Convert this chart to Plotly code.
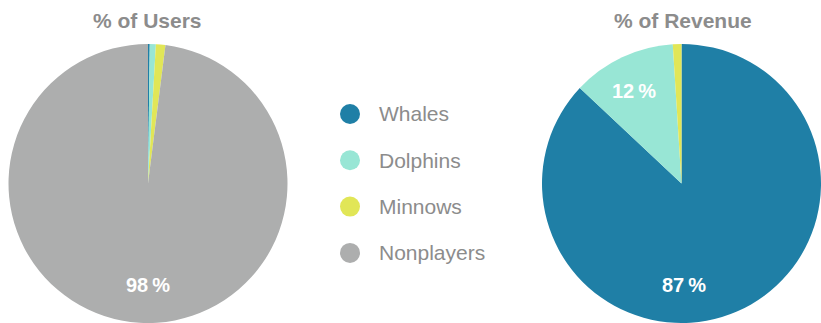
import plotly.graph_objects as go

# Player segments and their shares
segments = ["Whales", "Dolphins", "Minnows", "Nonplayers"]
users_pct = [0.2, 0.7, 1.1, 98.0]
revenue_pct = [87.0, 12.0, 1.0, 0.0]
titles = ["% of Users", "% of Revenue"]
colors = ["#1f7fa6", "#98e6d5", "#e1e657", "#adaeae"]

W, H = 821, 323
FONT = "Liberation Sans, Arial, Helvetica, sans-serif"
TITLE_GREY = "#8c8c8c"
LEGEND_GREY = "#8c8c8c"


def px(x):
    return x / W


def py(y):
    # pixel row measured from the top -> paper fraction
    return (H - y) / H


fig = go.Figure()

pie_common = dict(
    labels=segments,
    sort=False,
    direction="clockwise",
    rotation=0,
    marker=dict(colors=colors, line=dict(width=0)),
    textinfo="none",
    showlegend=False,
    hovertemplate="%{label}: %{value}%<extra></extra>",
)

fig.add_trace(go.Pie(values=users_pct,
                     domain=dict(x=[px(7), px(289)], y=[0, py(44)]),
                     **pie_common))
fig.add_trace(go.Pie(values=revenue_pct,
                     domain=dict(x=[px(542), 1], y=[0, py(44)]),
                     **pie_common))

annotations = []

# Chart titles above each pie
for text, cx in zip(titles, [147, 683]):
    annotations.append(dict(
        text=f"<b>{text}</b>", x=px(cx), y=py(20), xref="paper", yref="paper",
        showarrow=False, xanchor="center", yanchor="middle",
        font=dict(family=FONT, size=21, color=TITLE_GREY)))


def pct_label(v):
    return f"<b>{v:.0f}\u2009%</b>"


# Value labels on the large slices
value_labels = [
    (users_pct[3], 148, 285),
    (revenue_pct[0], 684, 285),
    (revenue_pct[1], 634, 91),
]
for v, x, y in value_labels:
    annotations.append(dict(
        text=pct_label(v), x=px(x), y=py(y), xref="paper", yref="paper",
        showarrow=False, xanchor="center", yanchor="middle",
        font=dict(family=FONT, size=20, color="white")))

# Shared legend between the pies
shapes = []
leg_x, leg_y0, leg_step, r = 350, 114, 46.3, 10
for i, (name, col) in enumerate(zip(segments, colors)):
    yc = leg_y0 + i * leg_step
    shapes.append(dict(
        type="circle", xref="paper", yref="paper",
        x0=px(leg_x - r), x1=px(leg_x + r), y0=py(yc + r), y1=py(yc - r),
        fillcolor=col, line=dict(width=0)))
    annotations.append(dict(
        text=name, x=px(377), y=py(yc), xref="paper", yref="paper",
        showarrow=False, xanchor="left", yanchor="middle",
        font=dict(family=FONT, size=21, color=LEGEND_GREY)))

fig.update_layout(
    width=W, height=H,
    margin=dict(l=0, r=0, t=0, b=0),
    paper_bgcolor="white",
    plot_bgcolor="white",
    annotations=annotations,
    shapes=shapes,
)

fig.write_html("out.html")
